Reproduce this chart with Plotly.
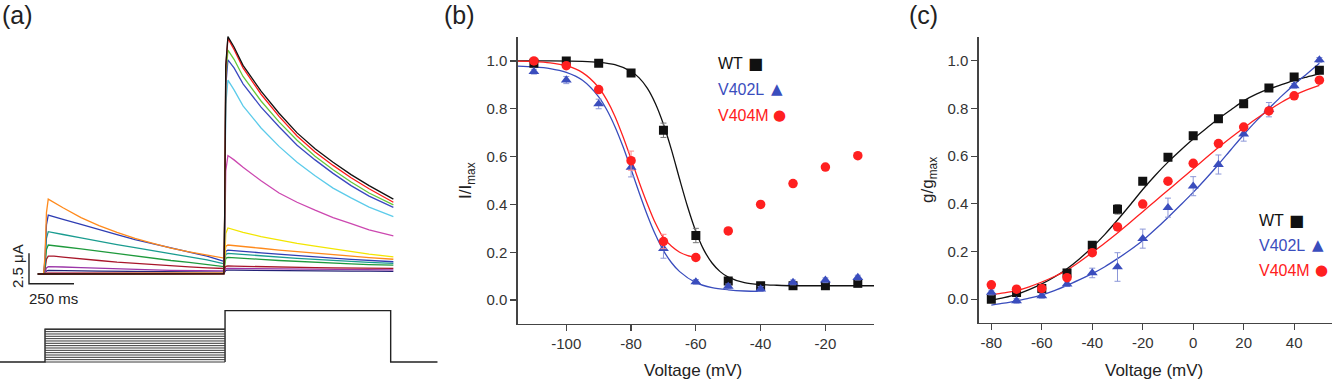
import plotly.graph_objects as go

W, H = 1333, 382
FONT = "Liberation Sans, Arial, sans-serif"

# ---------------- Panel (a): current traces ----------------
PRE_T = [-40, -8, 0, 8, 18, 50, 100, 200, 300, 400, 500, 600, 700, 800, 900, 990]
TEST_T = [994, 998, 1004, 1016, 1050, 1100, 1200, 1300, 1400, 1500, 1600, 1700, 1800, 1935]

pre_black = [0, 0, 0, 0.01, 0.01, 0.01, 0.01, 0.01, 0.01, 0.01, 0.01, 0.01, 0.01, 0.01, 0.01, 0.01]
pre_red = [0, 0, 0, 0.02, 0.02, 0.02, 0.02, 0.02, 0.02, 0.02, 0.02, 0.02, 0.02, 0.02, 0.02, 0.02]
pre_green = [0, 0, 0, 0.03, 0.03, 0.03, 0.03, 0.03, 0.03, 0.03, 0.03, 0.03, 0.03, 0.03, 0.03, 0.03]
pre_blue = [0, 0, 0, 0.04, 0.04, 0.04, 0.04, 0.04, 0.04, 0.04, 0.04, 0.04, 0.04, 0.04, 0.04, 0.04]
pre_cyan = [0, 0, 0, 0.05, 0.05, 0.05, 0.05, 0.05, 0.05, 0.05, 0.05, 0.05, 0.05, 0.05, 0.05, 0.05]
pre_magenta = [0, 0, 0.02, 0.08, 0.09, 0.09, 0.09, 0.08, 0.08, 0.08, 0.07, 0.07, 0.07, 0.07, 0.07, 0.07]
pre_yellow = [0, 0, 0.02, 0.1, 0.12, 0.12, 0.12, 0.11, 0.11, 0.1, 0.1, 0.1, 0.1, 0.1, 0.1, 0.1]
pre_orange = [0, 0, 1.5, 5.0, 6.1, 5.85, 5.4, 4.6, 3.95, 3.4, 2.9, 2.5, 2.1, 1.8, 1.55, 1.3]
pre_dblue = [0, 0, 1.2, 4.0, 4.8, 4.65, 4.45, 4.05, 3.6, 3.2, 2.8, 2.45, 2.1, 1.8, 1.45, 1.05]
pre_teal = [0, 0, 0.9, 2.9, 3.45, 3.38, 3.22, 2.95, 2.65, 2.4, 2.15, 1.9, 1.65, 1.4, 1.15, 0.85]
pre_dgreen = [0, 0, 0.6, 2.0, 2.36, 2.32, 2.22, 2.05, 1.85, 1.65, 1.45, 1.28, 1.1, 0.95, 0.78, 0.6]
pre_dred = [0, 0, 0.4, 1.2, 1.45, 1.45, 1.38, 1.27, 1.1, 0.97, 0.86, 0.76, 0.67, 0.58, 0.5, 0.43]
pre_purple = [0, 0, 0.15, 0.5, 0.6, 0.6, 0.57, 0.52, 0.46, 0.41, 0.37, 0.33, 0.29, 0.26, 0.23, 0.2]
pre_navy = [0, 0, 0.08, 0.25, 0.3, 0.3, 0.29, 0.26, 0.23, 0.21, 0.19, 0.17, 0.15, 0.14, 0.13, 0.12]

test_black = [0.01, 5.0, 17.0, 19.35, 18.5, 17.0, 14.9, 13.1, 11.5, 10.2, 9.1, 8.1, 7.2, 6.1]
test_red = [0.02, 4.9, 16.8, 19.2, 18.3, 16.8, 14.65, 12.85, 11.25, 9.95, 8.85, 7.85, 6.95, 5.85]
test_green = [0.03, 4.7, 16.0, 18.25, 17.5, 16.1, 14.1, 12.4, 10.9, 9.6, 8.5, 7.5, 6.6, 5.63]
test_blue = [0.04, 4.5, 15.3, 17.45, 16.8, 15.5, 13.6, 12.0, 10.5, 9.3, 8.2, 7.2, 6.35, 5.43]
test_cyan = [0.05, 4.0, 13.8, 15.8, 15.0, 13.7, 11.9, 10.4, 9.1, 8.0, 7.0, 6.2, 5.45, 4.67]
test_magenta = [0.07, 2.5, 8.4, 9.65, 9.3, 8.7, 7.6, 6.6, 5.85, 5.2, 4.6, 4.1, 3.6, 3.1]
test_yellow = [0.1, 1.0, 3.3, 3.75, 3.6, 3.4, 3.05, 2.75, 2.5, 2.28, 2.05, 1.85, 1.62, 1.4]
test_orange = [1.3, 1.5, 2.25, 2.36, 2.32, 2.25, 2.1, 1.95, 1.82, 1.7, 1.58, 1.46, 1.34, 1.2]
test_dblue = [1.05, 1.2, 1.85, 1.95, 1.92, 1.85, 1.72, 1.6, 1.49, 1.39, 1.29, 1.19, 1.1, 1.0]
test_teal = [0.85, 1.0, 1.6, 1.68, 1.65, 1.6, 1.49, 1.38, 1.28, 1.19, 1.1, 1.02, 0.95, 0.87]
test_dgreen = [0.6, 0.7, 1.28, 1.36, 1.34, 1.29, 1.19, 1.1, 1.02, 0.95, 0.88, 0.82, 0.77, 0.73]
test_dred = [0.43, 0.45, 0.62, 0.65, 0.64, 0.62, 0.59, 0.56, 0.54, 0.52, 0.5, 0.48, 0.47, 0.46]
test_purple = [0.2, 0.25, 0.44, 0.46, 0.45, 0.44, 0.42, 0.4, 0.38, 0.37, 0.36, 0.35, 0.34, 0.33]
test_navy = [0.12, 0.15, 0.3, 0.32, 0.31, 0.3, 0.29, 0.28, 0.27, 0.26, 0.25, 0.24, 0.23, 0.22]

TRACE_COLORS = ["#232277", "#9b35a8", "#a8162a", "#1f9a3c", "#1a9c90", "#2f3db3", "#ff8a1c",
                "#f2e600", "#cc48b0", "#5ccbea", "#3a48c0", "#66c83a", "#ff1a1a", "#111111"]
PRE_SERIES = [pre_navy, pre_purple, pre_dred, pre_dgreen, pre_teal, pre_dblue, pre_orange,
              pre_yellow, pre_magenta, pre_cyan, pre_blue, pre_green, pre_red, pre_black]
TEST_SERIES = [test_navy, test_purple, test_dred, test_dgreen, test_teal, test_dblue, test_orange,
               test_yellow, test_magenta, test_cyan, test_blue, test_green, test_red, test_black]

# voltage protocol (mV)
HOLD_V = -120
PRE_LEVELS = [-120, -110, -100, -90, -80, -70, -60, -50, -40, -30, -20, -10, 0, 10, 20]
TEST_V = 100
PROTO_T = [-250, 0, 0, 1000, 1000, 1000, 1920, 1920, 2180]
PRE_START, PRE_END = 0, 1000

# scale bar
SCALE_T, SCALE_I = 250, 2.5
SCALE_ORIGIN = (-89, -0.8)

# ---------------- Panel (b): inactivation ----------------
B_V = [-110, -100, -90, -80, -70, -60, -50, -40, -30, -20, -10]
B_WT = [0.99, 1.0, 0.99, 0.95, 0.71, 0.27, 0.08, 0.06, 0.06, 0.06, 0.07]
B_WT_ERR = [0.01, 0.01, 0.01, 0.01, 0.03, 0.03, 0.01, 0.01, 0.01, 0.01, 0.01]
B_V402L = [0.955, 0.92, 0.82, 0.555, 0.215, 0.076, 0.057, 0.046, 0.074, 0.083, 0.094]
B_V402L_ERR = [0.01, 0.015, 0.02, 0.04, 0.04, 0.01, 0.01, 0.01, 0.01, 0.01, 0.01]
B_V404M = [1.0, 0.98, 0.88, 0.583, 0.245, 0.178, 0.289, 0.40, 0.487, 0.556, 0.604]
B_V404M_ERR = [0.01, 0.01, 0.01, 0.04, 0.03, 0.01, 0.01, 0.01, 0.01, 0.01, 0.01]
B_XTICKS = [-100, -80, -60, -40, -20]
B_XTICK_TEXT = ["-100", "-80", "-60", "-40", "-20"]

FITB_WT_V = [-115, -105, -95, -90, -85, -80, -77.5, -75, -72.5, -70, -67.5, -65, -62.5, -60,
             -57.5, -55, -52.5, -50, -45, -40, -35, -30, -20, -5]
FITB_WT = [1.0, 1.0, 0.998, 0.994, 0.984, 0.956, 0.929, 0.886, 0.822, 0.735, 0.627, 0.505, 0.388,
           0.287, 0.209, 0.155, 0.119, 0.096, 0.073, 0.065, 0.062, 0.06, 0.06, 0.06]
FITB_V402L_V = [-115, -110, -105, -100, -95, -90, -87.5, -85, -82.5, -80, -77.5, -75, -72.5, -70,
                -67.5, -65, -60, -55, -50, -45, -40]
FITB_V402L = [0.978, 0.975, 0.968, 0.952, 0.919, 0.85, 0.796, 0.726, 0.642, 0.547, 0.449, 0.356,
              0.274, 0.207, 0.156, 0.119, 0.073, 0.052, 0.043, 0.038, 0.036]
FITB_V404M_V = [-115, -110, -105, -100, -95, -90, -87.5, -85, -82.5, -80, -77.5, -75, -72.5, -70,
                -67.5, -65, -62.5, -60]
FITB_V404M = [0.999, 0.997, 0.992, 0.98, 0.951, 0.889, 0.837, 0.769, 0.684, 0.59, 0.493, 0.403,
              0.322, 0.26, 0.225, 0.2, 0.186, 0.178]

# ---------------- Panel (c): activation ----------------
C_V = [-80, -70, -60, -50, -40, -30, -20, -10, 0, 10, 20, 30, 40, 50]
C_WT = [0.0, 0.028, 0.045, 0.11, 0.226, 0.377, 0.495, 0.595, 0.686, 0.757, 0.82, 0.886, 0.932, 0.96]
C_WT_ERR = [0.01, 0.01, 0.01, 0.01, 0.01, 0.02, 0.01, 0.01, 0.01, 0.01, 0.01, 0.01, 0.01, 0.01]
C_V402L = [0.028, -0.007, 0.014, 0.063, 0.11, 0.135, 0.254, 0.384, 0.474, 0.565, 0.693, 0.795, 0.895, 1.004]
C_V402L_ERR = [0.01, 0.01, 0.01, 0.01, 0.02, 0.06, 0.04, 0.04, 0.04, 0.04, 0.03, 0.03, 0.01, 0.01]
C_V404M = [0.06, 0.042, 0.045, 0.09, 0.195, 0.303, 0.399, 0.495, 0.57, 0.653, 0.722, 0.79, 0.853, 0.919]
C_V404M_ERR = [0.01, 0.01, 0.01, 0.01, 0.01, 0.01, 0.01, 0.01, 0.01, 0.01, 0.01, 0.01, 0.01, 0.01]
C_XTICKS = [-80, -60, -40, -20, 0, 20, 40]
C_XTICK_TEXT = ["-80", "-60", "-40", "-20", "0", "20", "40"]

FITC_V = [-80, -75, -70, -65, -60, -55, -50, -45, -40, -35, -30, -25, -20, -15, -10, -5, 0,
          5, 10, 15, 20, 25, 30, 35, 40, 45, 50]
FITC_WT = [-0.005, 0.006, 0.02, 0.04, 0.064, 0.093, 0.128, 0.17, 0.218, 0.272, 0.332, 0.395, 0.46,
           0.52, 0.575, 0.625, 0.672, 0.715, 0.757, 0.795, 0.832, 0.86, 0.882, 0.9, 0.918, 0.932, 0.945]
FITC_V402L = [-0.025, -0.017, -0.007, 0.004, 0.018, 0.036, 0.058, 0.082, 0.107, 0.136, 0.17, 0.206,
              0.246, 0.293, 0.343, 0.395, 0.448, 0.505, 0.565, 0.628, 0.69, 0.748, 0.80, 0.852,
              0.9, 0.945, 0.99]
FITC_V404M = [0.018, 0.026, 0.036, 0.052, 0.072, 0.095, 0.122, 0.157, 0.196, 0.236, 0.278, 0.322,
              0.367, 0.412, 0.457, 0.502, 0.547, 0.592, 0.636, 0.678, 0.718, 0.757, 0.793, 0.826,
              0.855, 0.878, 0.897]

Y_TICKS = [0, 0.2, 0.4, 0.6, 0.8, 1.0]

BLACK, BLUE, RED = "#111111", "#3a4dbd", "#ff2020"
ERR_BLACK, ERR_BLUE, ERR_RED = "#777777", "#8c97d8", "#ff8c8c"


def px(x):
    return x / W


def py(y):
    return 1 - y / H


fig = go.Figure()

# panel (a) traces
for color, pre, test in zip(TRACE_COLORS, PRE_SERIES, TEST_SERIES):
    fig.add_trace(go.Scatter(x=PRE_T + TEST_T, y=pre + test, mode="lines",
                             line=dict(color=color, width=1.3), xaxis="x", yaxis="y",
                             hoverinfo="skip"))

# scale bar
sx, sy = SCALE_ORIGIN
fig.add_trace(go.Scatter(x=[sx, sx, sx + SCALE_T], y=[sy + SCALE_I, sy, sy], mode="lines",
                         line=dict(color="#222222", width=1.4), xaxis="x", yaxis="y",
                         hoverinfo="skip"))

# protocol outline
proto_v = [HOLD_V, HOLD_V, PRE_LEVELS[-1], PRE_LEVELS[-1], HOLD_V, TEST_V, TEST_V, HOLD_V, HOLD_V]
fig.add_trace(go.Scatter(x=PROTO_T, y=proto_v, mode="lines",
                         line=dict(color="#222222", width=1.4), xaxis="x", yaxis="y2",
                         hoverinfo="skip"))
lx, ly = [], []
for lv in PRE_LEVELS:
    lx += [PRE_START, PRE_END, None]
    ly += [lv, lv, None]
fig.add_trace(go.Scatter(x=lx, y=ly, mode="lines", line=dict(color="#3a3a3a", width=1),
                         xaxis="x", yaxis="y2", hoverinfo="skip"))


def add_series(xv, yv, err, color, ecolor, symbol, size, xa, ya):
    fig.add_trace(go.Scatter(x=xv, y=yv, mode="markers", xaxis=xa, yaxis=ya,
                             marker=dict(symbol=symbol, size=size, color=color, line=dict(width=0)),
                             error_y=dict(type="data", array=err, color=ecolor, thickness=1, width=3),
                             hoverinfo="skip"))


def add_fit(xv, yv, color, xa, ya):
    fig.add_trace(go.Scatter(x=xv, y=yv, mode="lines", xaxis=xa, yaxis=ya,
                             line=dict(color=color, width=1.3, shape="spline", smoothing=0.8),
                             hoverinfo="skip"))


# panel (b)
add_fit(FITB_WT_V, FITB_WT, BLACK, "x3", "y3")
add_fit(FITB_V402L_V, FITB_V402L, BLUE, "x3", "y3")
add_fit(FITB_V404M_V, FITB_V404M, RED, "x3", "y3")
add_series(B_V, B_WT, B_WT_ERR, BLACK, ERR_BLACK, "square", 9, "x3", "y3")
add_series(B_V, B_V402L, B_V402L_ERR, BLUE, ERR_BLUE, "triangle-up", 9.5, "x3", "y3")
add_series(B_V, B_V404M, B_V404M_ERR, RED, ERR_RED, "circle", 9.5, "x3", "y3")

# panel (c)
add_fit(FITC_V, FITC_WT, BLACK, "x4", "y4")
add_fit(FITC_V, FITC_V402L, BLUE, "x4", "y4")
add_fit(FITC_V, FITC_V404M, RED, "x4", "y4")
add_series(C_V, C_WT, C_WT_ERR, BLACK, ERR_BLACK, "square", 9, "x4", "y4")
add_series(C_V, C_V402L, C_V402L_ERR, BLUE, ERR_BLUE, "triangle-up", 9.5, "x4", "y4")
add_series(C_V, C_V404M, C_V404M_ERR, RED, ERR_RED, "circle", 9.5, "x4", "y4")

hidden = dict(visible=False, showgrid=False, zeroline=False, fixedrange=True)
axis_style = dict(showline=True, linecolor="#444444", linewidth=1.3, ticks="outside", ticklen=6,
                  tickwidth=1.3, tickcolor="#444444", showgrid=False, zeroline=False,
                  tickfont=dict(family=FONT, size=15, color="#333333"))

fig.update_layout(
    width=W, height=H, margin=dict(l=0, r=0, t=0, b=0),
    paper_bgcolor="white", plot_bgcolor="white", showlegend=False,
    xaxis=dict(domain=[0, px(440)], range=[-250, 2194], anchor="y", **hidden),
    yaxis=dict(domain=[py(290), py(20)], range=[-1.304, 20.70], anchor="x", **hidden),
    yaxis2=dict(domain=[py(375), py(300)], range=[-175.6, 145.4], anchor="x", **hidden),
    xaxis3=dict(domain=[px(517.7), px(874)], range=[-115, -5], anchor="y3",
                tickvals=B_XTICKS, ticktext=B_XTICK_TEXT, **axis_style),
    yaxis3=dict(domain=[py(324), py(37)], range=[-0.1, 1.1], anchor="x3",
                tickvals=Y_TICKS, tickformat=".1f", **axis_style),
    xaxis4=dict(domain=[px(978.7), px(1332)], range=[-85, 55], anchor="y4",
                tickvals=C_XTICKS, ticktext=C_XTICK_TEXT, **axis_style),
    yaxis4=dict(domain=[py(323), py(37)], range=[-0.1, 1.1], anchor="x4",
                tickvals=Y_TICKS, tickformat=".1f", **axis_style),
)


def ann(text, x, y, size, color="#222222", xanchor="center", angle=0, family=FONT):
    fig.add_annotation(text=text, x=px(x), y=py(y), xref="paper", yref="paper",
                       xanchor=xanchor, yanchor="middle", showarrow=False, textangle=angle,
                       font=dict(family=family, size=size, color=color))


# panel labels
ann("(a)", 0, 15, 25, xanchor="left")
ann("(b)", 442, 15, 25, xanchor="left")
ann("(c)", 907, 15, 25, xanchor="left")

# scale bar labels
ann("2.5 μA", 17, 266, 15, angle=-90)
ann("250 ms", 53, 298, 15)

# axis titles
ann("Voltage (mV)", 693, 370, 17)
ann("Voltage (mV)", 1154, 370, 17)
ann("I/I<sub>max</sub>", 467, 181, 17, angle=-90)
ann("g/g<sub>max</sub>", 929, 180, 17, angle=-90)

# legends
GLYPH = "DejaVu Sans"
ann("WT", 716, 64, 16, BLACK, xanchor="left")
ann("■", 755, 64, 16, BLACK, family=GLYPH)
ann("V402L", 716, 90, 16, BLUE, xanchor="left")
ann("▲", 777, 89, 15, BLUE, family=GLYPH)
ann("V404M", 716, 115, 16, RED, xanchor="left")
ann("●", 779, 115, 15, RED, family=GLYPH)

ann("WT", 1257, 220, 16, BLACK, xanchor="left")
ann("■", 1296, 220, 16, BLACK, family=GLYPH)
ann("V402L", 1257, 246, 16, BLUE, xanchor="left")
ann("▲", 1318, 245, 15, BLUE, family=GLYPH)
ann("V404M", 1257, 270, 16, RED, xanchor="left")
ann("●", 1321, 270, 15, RED, family=GLYPH)

fig.write_html("out.html", config={"displayModeBar": False, "staticPlot": True},
               post_script="document.body.style.margin='0';document.body.style.padding='0';"
                           "document.body.style.overflow='hidden';")
